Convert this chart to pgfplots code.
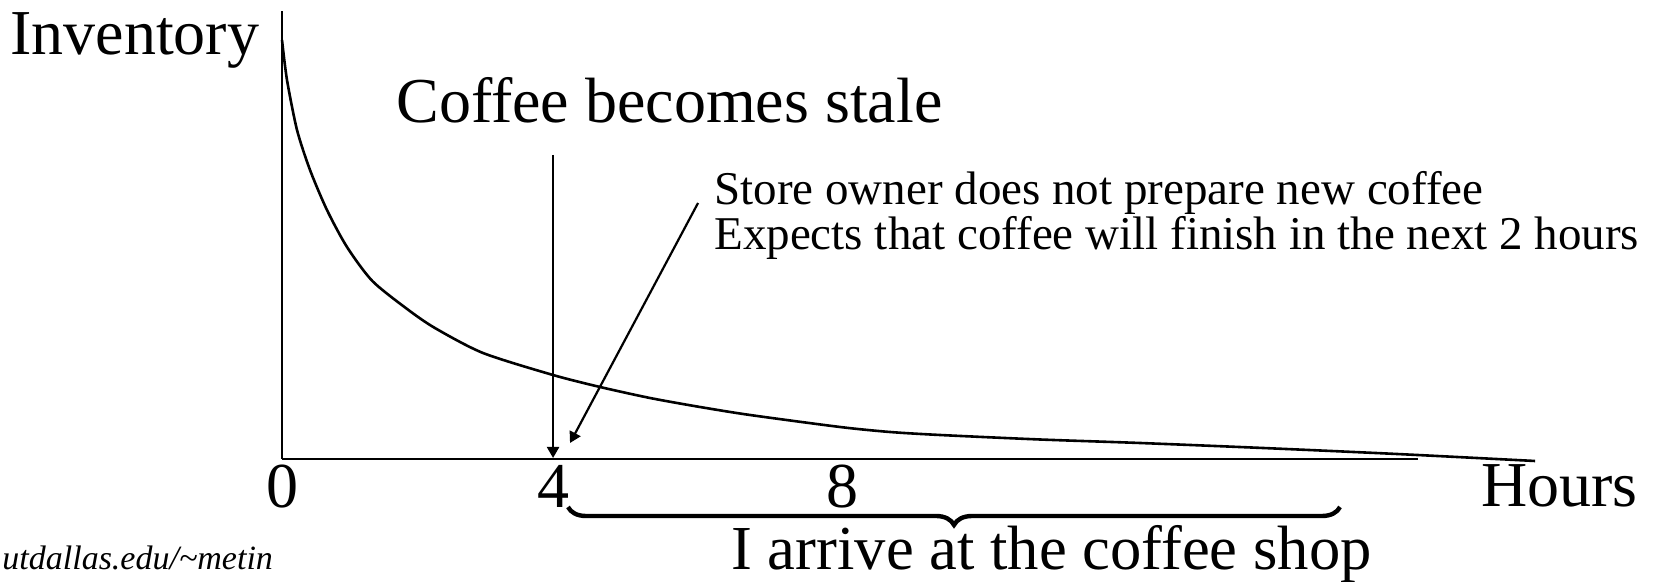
\documentclass[border=0pt]{standalone}
\usepackage{pgfplots}
\pgfplotsset{compat=1.18}
\usepackage{fontspec}
\setmainfont{Liberation Serif}
\usetikzlibrary{arrows.meta,decorations.pathreplacing}
\begin{document}
\begin{tikzpicture}[x=0.5pt,y=0.5pt]
\useasboundingbox (0,0) rectangle (1663,582);
\clip (0,0) rectangle (1663,582);
\begin{axis}[
  at={(141pt,61.5pt)}, anchor=south west,
  scale only axis, width=568pt, height=224pt,
  xmin=0, xmax=16.345, ymin=0, ymax=448,
  axis x line*=bottom, axis y line*=left,
  axis line style={-, line width=1.4pt},
  clip=false,
  ytick=\empty,
  xtick={0,3.9,8.06}, xticklabels={0,\raisebox{-3.5pt}{4},8},
  major tick length=0pt,
  /pgf/number format/assume math mode=true,
  xticklabel style={font=\fontsize{32}{36}\selectfont, inner sep=0pt, anchor=north, yshift=-3pt},
]
\addplot[black, line width=1.3pt, smooth, tension=0.45] coordinates {
(0,419) (0.072,379) (0.216,329) (0.403,289) (0.647,249) (0.935,212)
(1.3,178) (1.8,150) (2.2,131) (2.892,106) (3.899,84)
(4.576,72) (5.295,61) (6.014,52) (6.734,44) (8.029,32) (8.748,27)
(9.468,24) (10.906,19.5) (12.345,16) (14.115,11) (16.043,5) (18.03,-2)
};
\draw[-{Triangle[length=5.5pt,width=6pt]}, line width=1.1pt] (axis cs:3.9,304) -- (axis cs:3.9,1);
\draw[-{Triangle[length=5.5pt,width=6pt]}, line width=1.1pt] (axis cs:5.986,256) -- (axis cs:4.144,16);
\end{axis}
\tikzset{big/.style={anchor=base west, inner sep=0pt, font=\fontsize{32}{36}\selectfont}}
\node[big] at (10,527) {Inventory};
\node[big] at (396,459) {Coffee becomes stale};
\node[anchor=base west, inner sep=0pt, font=\fontsize{23.5}{28}\selectfont] at (714,377) {Store owner does not prepare new coffee};
\node[anchor=base west, inner sep=0pt, font=\fontsize{23.5}{28}\selectfont] at (714,332) {Expects that coffee will finish in the next 2 hours};
\node[big] at (1481,75) {Hours};
\node[anchor=base west, inner sep=0pt, font=\fontsize{31.3}{36}\selectfont] at (731,12) {I arrive at the coffee shop};
\node[anchor=base west, inner sep=0pt, font=\fontsize{17}{20}\selectfont\itshape] at (2,12) {utdallas.edu/\textasciitilde metin};
\draw[decorate, decoration={brace, mirror, amplitude=9pt}, line width=2.2pt] (568,75) -- (1340,75);
\end{tikzpicture}
\end{document}
